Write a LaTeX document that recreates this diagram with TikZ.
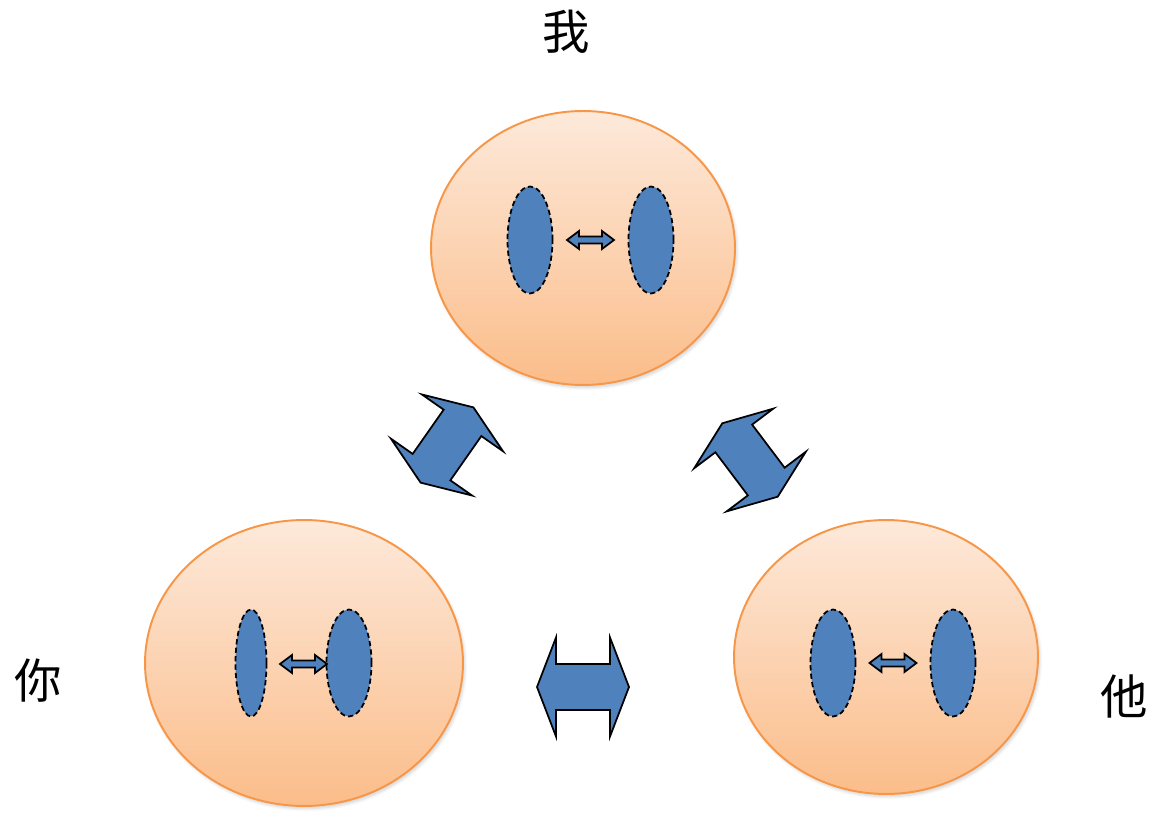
\documentclass[tikz,border=0pt]{standalone}
\usepackage{fontspec}
\usepackage{tikz}
\usetikzlibrary{shapes.geometric,shadows.blur}
\newfontfamily\cjk{Noto Sans CJK SC}
\definecolor{peachtop}{RGB}{253,233,218}
\definecolor{peachbot}{RGB}{251,189,138}
\definecolor{orangeline}{RGB}{247,150,70}
\definecolor{cellblue}{RGB}{79,129,189}
\tikzset{
  person/.style={draw=orangeline,line width=1.1pt,ellipse,top color=peachtop,bottom color=peachbot,
    blur shadow={shadow xshift=1pt,shadow yshift=-1.5pt,shadow opacity=18,shadow blur steps=6}},
  cell/.style={draw=black,dash pattern=on 3pt off 1.8pt,line width=1pt,ellipse,fill=cellblue,
    minimum height=2.14cm},
  label/.style={font=\cjk\fontsize{27}{27}\selectfont,inner sep=0pt},
  bigarrow/.pic={\draw[fill=cellblue,line width=1pt]
    (-46,0) -- (-27,-49.5) -- (-27,-23) -- (27,-23) -- (27,-49.5) -- (46,0)
    -- (27,49.5) -- (27,23) -- (-27,23) -- (-27,49.5) -- cycle;},
  smallarrow/.pic={\draw[fill=cellblue,line width=1pt]
    (-23.5,0) -- (-11.5,-9) -- (-11.5,-3.5) -- (11.5,-3.5) -- (11.5,-9) -- (23.5,0)
    -- (11.5,9) -- (11.5,3.5) -- (-11.5,3.5) -- (-11.5,9) -- cycle;}
}
\begin{document}
\begin{tikzpicture}[x=0.02cm,y=-0.02cm]
  \useasboundingbox (0,0) rectangle (1152,813);
  \node [label] (lwo) at (566,32) {我};
  \node [label] (lni) at (38,681) {你};
  \node [label] (lta) at (1124,696) {他};

  \node [person,minimum width=6.08cm,minimum height=5.48cm] (wo) at (583,248) {};
  \node [person,minimum width=6.36cm,minimum height=5.72cm] (ni) at (304,663) {};
  \node [person,minimum width=6.08cm,minimum height=5.48cm] (ta) at (886,657) {};

  \node [cell,minimum width=0.9cm]  (wo1) at (530,240) {};
  \node [cell,minimum width=0.9cm]  (wo2) at (651,240) {};
  \pic at (590.5,240) {smallarrow};
  \node [cell,minimum width=0.62cm] (ni1) at (251,663) {};
  \node [cell,minimum width=0.9cm]  (ni2) at (349,663) {};
  \pic at (303.5,664) {smallarrow};
  \node [cell,minimum width=0.9cm]  (ta1) at (833,663) {};
  \node [cell,minimum width=0.9cm]  (ta2) at (953,663) {};
  \pic at (893,663) {smallarrow};

  \pic [rotate=55]  at (447,445) {bigarrow};
  \pic [rotate=-53] at (750,460) {bigarrow};
  \pic at (583,687) {bigarrow};
\end{tikzpicture}
\end{document}
